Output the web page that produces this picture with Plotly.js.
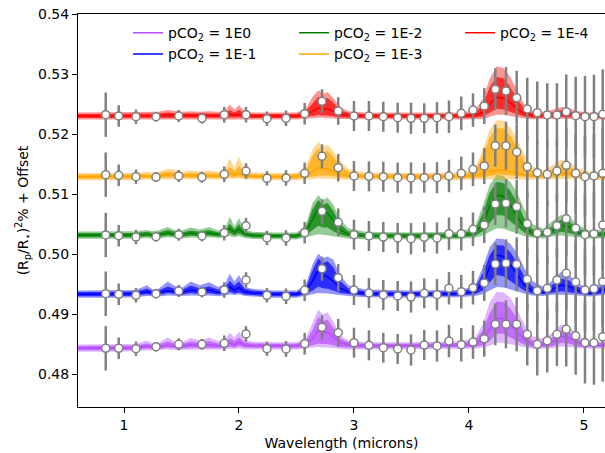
<!DOCTYPE html>
<html><head><meta charset="utf-8">
<script src="https://cdn.plot.ly/plotly-3.0.1.min.js"></script>
<style>html,body{margin:0;padding:0;overflow:hidden;background:#fff}#chart{width:605px;height:453px}</style>
</head><body><div id="chart"></div><script>
// ---------- observed data (wavelength in microns) ----------
const obsWave = [0.841,0.954,1.104,1.278,1.476,1.678,1.872,2.061,2.243,2.409,2.571,2.722,2.863,3.000,3.130,3.255,3.380,3.496,3.611,3.722,3.826,3.933,4.035,4.133,4.229,4.322,4.415,4.507,4.594,4.681,4.765,4.846,4.928,5.009,5.087,5.163];
const obsErr = [0.0037,0.0018,0.0012,0.0008,0.0010,0.0009,0.0013,0.0013,0.0012,0.0013,0.0018,0.0020,0.0023,0.0025,0.0025,0.0025,0.0025,0.0026,0.0025,0.0026,0.0027,0.0028,0.0028,0.0030,0.0035,0.0040,0.0045,0.0052,0.0052,0.0053,0.0053,0.0062,0.0065,0.0068,0.0070,0.0075];
const obs_1E0 = [0.48428,0.48428,0.48422,0.48455,0.48495,0.48495,0.48512,0.48667,0.48422,0.48417,0.48505,0.48778,0.48688,0.48522,0.48478,0.48438,0.48417,0.48400,0.48483,0.48467,0.48550,0.48488,0.48533,0.48588,0.48828,0.48828,0.48828,0.48662,0.48495,0.48555,0.48662,0.48745,0.48638,0.48522,0.48522,0.48622];
const obs_1E1 = [0.49338,0.49328,0.49312,0.49338,0.49383,0.49367,0.49400,0.49567,0.49312,0.49295,0.49395,0.49755,0.49605,0.49400,0.49350,0.49317,0.49300,0.49283,0.49345,0.49322,0.49428,0.49372,0.49438,0.49517,0.49833,0.49845,0.49828,0.49578,0.49388,0.49428,0.49567,0.49678,0.49533,0.49400,0.49422,0.49538];
const obs_1E2 = [0.50317,0.50305,0.50283,0.50288,0.50322,0.50300,0.50355,0.50472,0.50267,0.50267,0.50355,0.50712,0.50528,0.50322,0.50300,0.50283,0.50267,0.50255,0.50278,0.50267,0.50338,0.50338,0.50412,0.50483,0.50833,0.50845,0.50788,0.50505,0.50350,0.50362,0.50472,0.50588,0.50428,0.50322,0.50338,0.50483];
const obs_1E3 = [0.51322,0.51312,0.51288,0.51283,0.51300,0.51278,0.51328,0.51383,0.51262,0.51267,0.51345,0.51628,0.51438,0.51300,0.51295,0.51288,0.51272,0.51267,0.51272,0.51272,0.51300,0.51345,0.51412,0.51467,0.51805,0.51805,0.51700,0.51455,0.51355,0.51328,0.51383,0.51478,0.51345,0.51288,0.51300,0.51345];
const obs_1E4 = [0.52322,0.52300,0.52288,0.52288,0.52300,0.52262,0.52322,0.52322,0.52255,0.52262,0.52338,0.52545,0.52383,0.52300,0.52300,0.52288,0.52272,0.52262,0.52262,0.52272,0.52288,0.52345,0.52400,0.52467,0.52745,0.52717,0.52605,0.52417,0.52355,0.52317,0.52317,0.52372,0.52305,0.52288,0.52288,0.52328];

// ---------- retrieved model spectra ----------
// deviations from each offset, in units of 1e-4
const modelWave = [0.6,0.9,1.1,1.2,1.25,1.3,1.38,1.44,1.5,1.58,1.66,1.74,1.82,1.88,1.92,1.96,2.0,2.05,2.12,2.3,2.5,2.58,2.64,2.69,2.73,2.77,2.82,2.88,2.95,3.1,3.5,3.9,4.05,4.12,4.18,4.24,4.3,4.36,4.42,4.48,4.55,4.65,4.72,4.8,4.87,4.95,5.05,5.2];
const offsets = [0.4843, 0.4933, 0.5030, 0.5129, 0.5230];

const med_1E0 = [0,0,1,3,2,2,5,3,3,6,4,6,4,5,9,6,10,5,4,4,4,7,16,30,26,27,19,9,6,4,4,5,7,15,32,50,49,40,27,15,7,6,10,20,18,9,5,5];
const hi1_1E0 = [3.5,3.5,4.5,8,5.5,6,11,8,7,11,9,12,8,10,16,12,18,10,8,7.5,7.5,12,30,53,45,48,34,16,10,7.5,7.5,8.5,12,30,58,78,77,66,48,28,13,11,17,30,27,15,9,8.5];
const hi2_1E0 = [6,6,7,13,8,9,18,11,10,17,13,18,12,15,26,18,28,13,11,10,10,16,42,64,56,60,45,22,13,10,10,11,16,40,76,94,93,84,64,40,20,16,25,39,36,20,12,11];
const lo1_1E0 = [-3.5,-3.5,-2.5,-0.5,-1.5,-1.5,1,0,-0.5,1,0.5,1,0.5,1,3,1,4,1,0.5,0.5,0.5,2,5,8,7,7,5,2,1,0.5,0.5,1.5,2,5,12,24,24,18,12,6,2,2,3,9,8,3,1.5,1.5];
const lo2_1E0 = [-6,-6,-5,-3.5,-4,-4,-2,-3,-3,-2,-2.5,-2,-2.5,-2,-1,-1.5,0,-2,-2,-2,-2,-1,1,2,1,1,1,-1,-2,-2,-2,-1,-1,1,4,9,9,7,5,2,-1,-1,0,3,2,0,-1,-1];

const med_1E1 = [0,0,1,4,2,2,6,4,3,7,5,7,3,6,12,7,11,4,2,0,0,5,22,40,32,29,22,10,4,1,0,1,4,18,45,65,63,50,32,16,6,3,8,15,13,6,2,8];
const hi1_1E1 = [3.5,3.5,4.5,9,5.5,6,13,9,7,14,10,13,8,12,22,14,21,9,6,3.5,3.5,10,40,60,52,55,45,22,10,5,3.5,4.5,9,35,65,82,81,70,52,30,13,8,15,26,23,12,6,15];
const hi2_1E1 = [6,6,7,15,8,9,21,14,10,21,15,20,12,18,34,21,32,12,9,6,6,15,50,68,60,63,58,32,15,8,6,7,13,45,78,93,92,84,68,44,22,12,22,37,33,18,9,24];
const lo1_1E1 = [-3.5,-3.5,-2.5,0,-1.5,-1.5,2,0.5,-0.5,2,0.5,1.5,-0.5,1,4,1,3,-0.5,-1.5,-3.5,-3.5,0,6,13,10,9,6,2,0,-2.5,-3.5,-2.5,0,6,20,32,30,22,14,6,1,0,2,5,4,1,-1.5,2];
const lo2_1E1 = [-6,-6,-5,-3,-4,-4,-2,-2.5,-3,-2,-2.5,-2,-3.5,-2,0,-1.5,0,-3,-4,-6,-6,-3,0,2,1,1,0,-2,-3,-5,-6,-5,-3,0,6,12,11,8,5,1,-2,-3,-1,-1,-1,-2,-4,-1];

const med_1E2 = [1.5,1.5,1.5,3,1.5,2,5,3,2,5,3,5,2.5,5,13,6,12,3,1,0,0,6,28,46,38,38,26,10,3,0.5,0,0.5,4,20,50,68,66,52,32,15,5,3,8,18,15,6,2,3];
const hi1_1E2 = [5,5,5,7,5,6,10,7,6,9,7,10,6,9,21,11,20,7,4.5,3.5,3.5,12,45,60,52,55,42,20,8,4,3.5,4,9,38,72,90,88,75,55,30,12,8,16,27,24,12,6,7];
const hi2_1E2 = [7.5,7.5,8,10,8,9,15,10,9,14,11,15,9,13,32,16,30,10,7,6,6,18,55,68,60,64,52,28,13,7,6,7,14,50,85,102,100,90,72,45,20,12,24,35,32,18,9,11];
const lo1_1E2 = [-2,-2,-2,-0.5,-2,-1.5,1,-0.5,-1.5,0.5,-0.5,1,-1,0.5,5,1,4,-0.5,-2.5,-3.5,-3.5,1,10,17,14,14,8,2,-1,-3,-3.5,-3,0,8,22,35,34,25,15,6,0,-1,2,7,5,1,-1.5,-1];
const lo2_1E2 = [-4.5,-4.5,-4.5,-3.5,-4.5,-4,-2,-3,-4,-2.5,-3,-2,-3.5,-2.5,0,-2,0,-3.5,-5,-6,-6,-2,1,3,2,2,0,-2,-4,-5.5,-6,-5.5,-3,1,7,13,12,8,4,0,-3,-4,-1,1,0,-2,-4,-4];

const med_1E3 = [0,0,0,1,0.5,1,3,2,1,2,1.5,2,1,3,6,3,6,2,0.5,0,0,2,8,15,13,13,9,4,1.5,0.5,0,0.5,2,5,9,11,11,9,6,3,1.5,1,3,6,5,2,0.5,1];
const hi1_1E3 = [3.5,3.5,3.5,4.5,4,5,8,7,5,6,5.5,6,5,8,16,9,18,6,4,3.5,3.5,10,35,47,40,43,33,18,8,4,3.5,4,8,35,65,81,80,68,48,25,10,6,12,20,17,9,4.5,6];
const hi2_1E3 = [6,6,6,8,7,8,13,12,8,10,9,10,8,14,30,16,33,10,7,6,6,16,45,58,50,53,43,26,13,7,6,7,12,45,78,94,93,82,62,38,17,10,18,28,25,14,8,10];
const lo1_1E3 = [-3.5,-3.5,-3.5,-2.5,-3,-2.5,-1,-1.5,-2.5,-2,-2,-2,-2.5,-1,0,-1,0,-2,-3,-3.5,-3.5,-2,0,2,2,2,1,-1,-2.5,-3,-3.5,-3,-2,-1,1,3,3,2,1,0,-1.5,-2.5,-1,1,0.5,-1.5,-3,-2.5];
const lo2_1E3 = [-6,-6,-6,-5,-5.5,-5,-4,-4.5,-5,-4.5,-4.5,-4.5,-5,-4,-3,-4,-3,-4.5,-5.5,-6,-6,-5,-4,-3,-3,-3,-4,-5,-5.5,-6,-6,-6,-5,-5,-4,-4,-4,-4,-5,-5,-5,-5.5,-5,-4,-4,-5,-6,-5.5];

const med_1E4 = [0,0,0,0,0,0.5,1.5,1,0.5,1,0.5,1,0.5,1,3,1.5,3,1,0,0,0,2,8,13,11,12,8,3,1,0,0,0,1,6,20,31,30,22,11,4,1,0.5,1.5,4,3,1,0,0];
const hi1_1E4 = [3.5,3.5,3.5,3.5,3.5,4,6,5,4,4.5,4,4.5,4,5,10,6,10,4.5,3.5,3.5,3.5,8,22,32,27,30,22,10,5,3.5,3.5,3.5,5,18,48,65,63,48,28,12,5,4,6,10,8,5,3.5,3.5];
const hi2_1E4 = [6,6,6,6,6,7,10,9,7,8,7,8,7,9,19,11,18,8,6,6,6,12,32,43,37,40,30,15,8,6,6,6,9,28,62,83,80,65,42,20,9,7,10,15,13,8,6,6];
const lo1_1E4 = [-3.5,-3.5,-3.5,-3.5,-3.5,-3,-2.5,-3,-3,-3,-3,-3,-3,-3,-2,-2.5,-2,-3,-3.5,-3.5,-3.5,-2,0,2,1,1,0,-2,-3,-3.5,-3.5,-3.5,-3,-1,5,12,11,7,3,-1,-3,-3,-2.5,-1.5,-2,-3,-3.5,-3.5];
const lo2_1E4 = [-6,-6,-6,-6,-6,-5.5,-5,-5.5,-5.5,-5.5,-5.5,-5.5,-5.5,-5.5,-5,-5,-5,-5.5,-6,-6,-6,-5,-4,-3,-3,-3,-4,-5,-5.5,-6,-6,-6,-5.5,-5,-2,2,2,0,-2,-4,-5.5,-5.5,-5,-4.5,-5,-5.5,-6,-6];

const labels = ['pCO<sub>2</sub> = 1E0','pCO<sub>2</sub> = 1E-1','pCO<sub>2</sub> = 1E-2','pCO<sub>2</sub> = 1E-3','pCO<sub>2</sub> = 1E-4'];
const colors = [[184,77,255],[0,0,255],[0,128,0],[255,165,0],[255,0,0]];
const legendRanks = [1,4,2,5,3];

const models = [
  [med_1E0,hi1_1E0,hi2_1E0,lo1_1E0,lo2_1E0],
  [med_1E1,hi1_1E1,hi2_1E1,lo1_1E1,lo2_1E1],
  [med_1E2,hi1_1E2,hi2_1E2,lo1_1E2,lo2_1E2],
  [med_1E3,hi1_1E3,hi2_1E3,lo1_1E3,lo2_1E3],
  [med_1E4,hi1_1E4,hi2_1E4,lo1_1E4,lo2_1E4]
];
const obsSeries = [obs_1E0,obs_1E1,obs_1E2,obs_1E3,obs_1E4];

function toVal(arr, off){ return arr.map(v => off + v*1e-4); }
function rgba(c,a){ return 'rgba('+c[0]+','+c[1]+','+c[2]+','+a+')'; }

const traces = [];
models.forEach((m, i) => {
  const off = offsets[i];
  const [med, hi1, hi2, lo1, lo2] = m.map(a => toVal(a, off));
  const xr = modelWave.slice().reverse();
  traces.push({x: modelWave.concat(xr), y: hi2.concat(lo2.slice().reverse()), type:'scatter', mode:'lines',
    fill:'toself', fillcolor: rgba(colors[i],0.42), line:{width:0}, hoverinfo:'skip', showlegend:false});
  traces.push({x: modelWave.concat(xr), y: hi1.concat(lo1.slice().reverse()), type:'scatter', mode:'lines',
    fill:'toself', fillcolor: rgba(colors[i],0.7), line:{width:0}, hoverinfo:'skip', showlegend:false});
  traces.push({x: modelWave, y: med, type:'scatter', mode:'lines', name: labels[i],
    line:{color: rgba(colors[i],1), width:1.6}, legendrank: legendRanks[i],
    legendwidth: (i===4 ? 95 : 121)});
});
obsSeries.forEach((ys) => {
  traces.push({x: obsWave, y: ys, type:'scatter', mode:'markers', showlegend:false,
    marker:{size:8, color:'white', line:{color:'#808080', width:1.5}},
    error_y:{type:'data', array: obsErr, visible:true, color:'#808080', thickness:2.5, width:0}});
});

const font = {family:'DejaVu Sans, sans-serif', size:14, color:'#000'};
const layout = {
  width:605, height:453,
  margin:{l:78, r:0, t:14, b:46},
  paper_bgcolor:'#fff', plot_bgcolor:'#fff',
  font: font,
  showlegend:true,
  legend:{orientation:'h', x:0.095, xanchor:'left', y:0.992, yanchor:'top',
    bgcolor:'rgba(0,0,0,0)', borderwidth:0, font:font, entrywidth:121, entrywidthmode:'pixels',
    traceorder:'normal', itemwidth:30, tracegroupgap:0},
  xaxis:{range:[0.6, 5.183], tickvals:[1,2,3,4,5], ticktext:['1','2','3','4','5'],
    showline:true, linecolor:'#000', linewidth:1, mirror:true,
    ticks:'outside', ticklen:5, tickwidth:1, tickcolor:'#000',
    showgrid:false, zeroline:false, tickfont:font,
    title:{text:'Wavelength (microns)', font:font, standoff:6}},
  yaxis:{range:[0.4745, 0.54], tickvals:[0.48,0.49,0.50,0.51,0.52,0.53,0.54],
    ticktext:['0.48','0.49','0.50','0.51','0.52','0.53','0.54'],
    showline:true, linecolor:'#000', linewidth:1, mirror:false,
    ticks:'outside', ticklen:5, tickwidth:1, tickcolor:'#000',
    showgrid:false, zeroline:false, tickfont:font,
    title:{text:'(R<sub>p</sub>/R<sub>⋆</sub>)<sup>2</sup>% + Offset', font:font, standoff:6}}
};
Plotly.newPlot('chart', traces, layout, {displayModeBar:false, staticPlot:true});
</script></body></html>
